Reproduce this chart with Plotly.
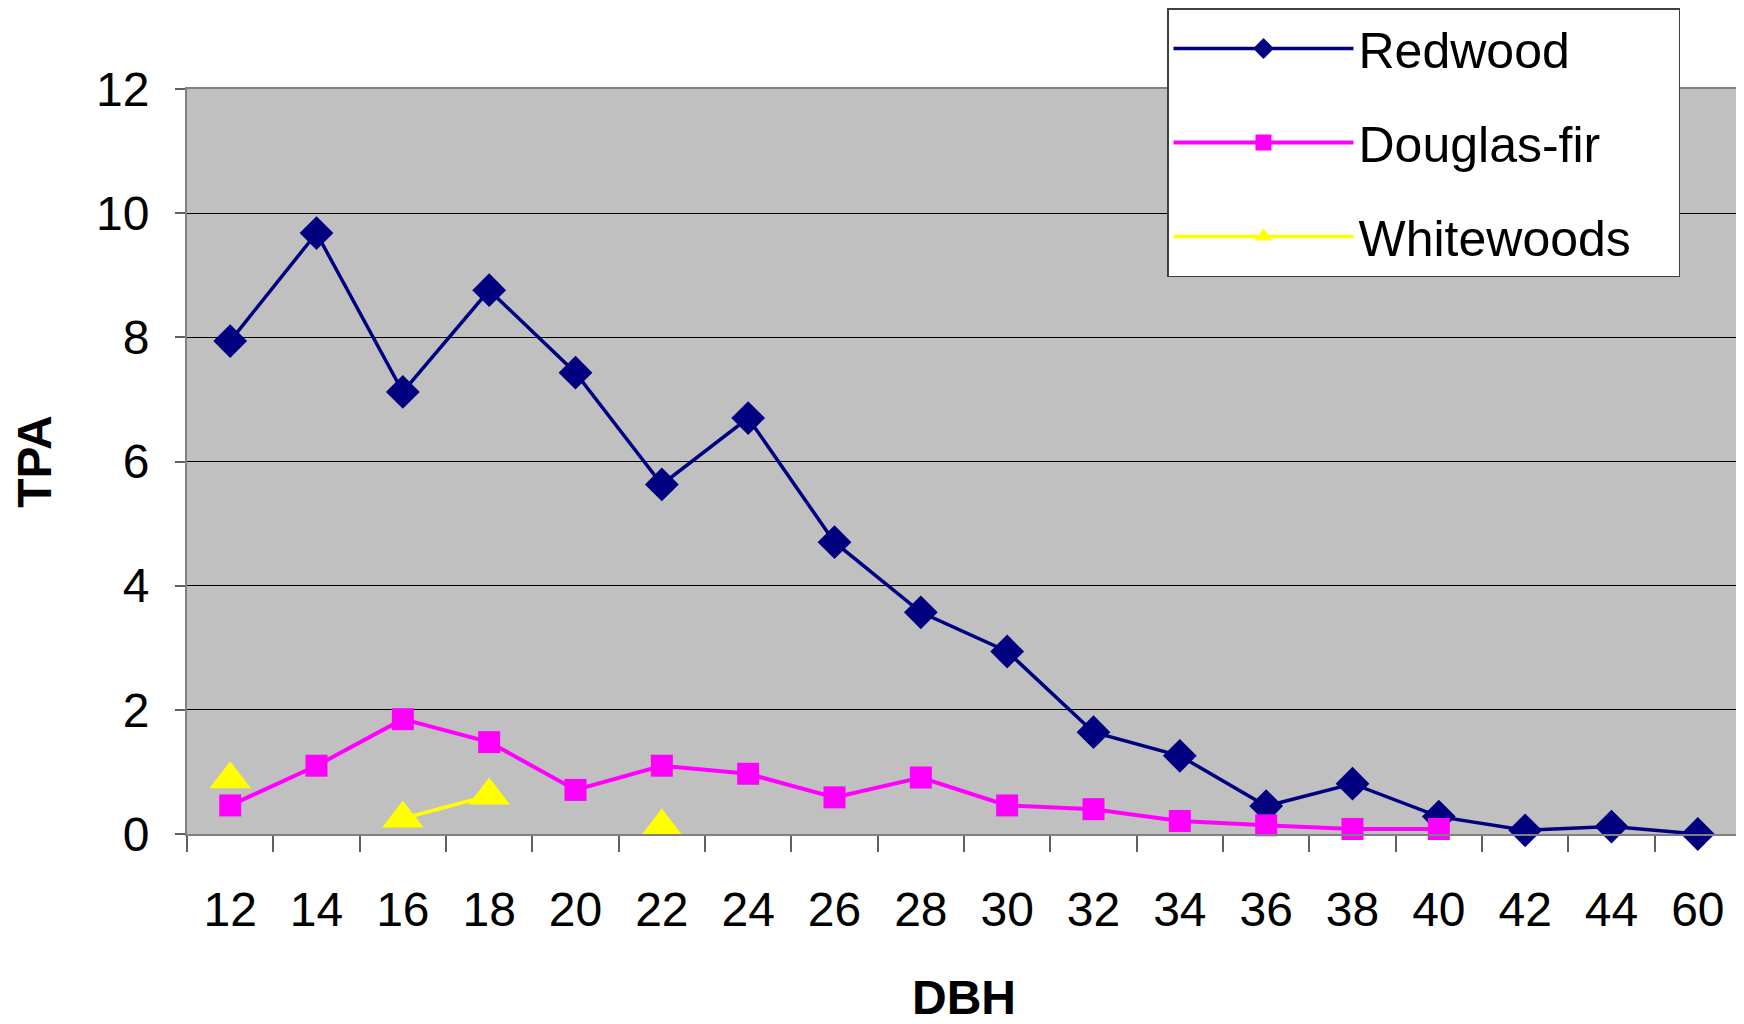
import plotly.graph_objects as go

dbh = ["12", "14", "16", "18", "20", "22", "24", "26", "28", "30", "32", "34", "36", "38", "40", "42", "44", "60"]
redwood = [7.94, 9.68, 7.12, 8.76, 7.43, 5.63, 6.70, 4.70, 3.57, 2.94, 1.64, 1.26, 0.45, 0.81, 0.28, 0.06, 0.12, 0.0]
douglas_fir = [0.46, 1.10, 1.85, 1.48, 0.71, 1.10, 0.97, 0.59, 0.91, 0.46, 0.40, 0.21, 0.14, 0.08, 0.08, None, None, None]
whitewoods = [0.88, None, 0.25, 0.62, None, 0.12, None, None, None, None, None, None, None, None, None, None, None, None]
y_ticks = [0, 2, 4, 6, 8, 10, 12]
series_names = ["Redwood", "Douglas-fir", "Whitewoods"]

FONT = "Liberation Sans, Arial, sans-serif"
PAD = "\u00a0" * 3

# page body has an 8px default margin; size the figure so it fits the 1744x1024 window
W, H = 1736, 1016

fig = go.Figure()
fig.add_trace(go.Scatter(
    x=dbh, y=redwood, name=series_names[0] + PAD, mode="lines+markers", legendgroup="a",
    line=dict(color="#000080", width=3.5),
    marker=dict(symbol="diamond", size=26, color="#000080"),
    cliponaxis=False,
))
fig.add_trace(go.Scatter(
    x=dbh, y=douglas_fir, name=series_names[1] + PAD, mode="lines+markers", legendgroup="b",
    line=dict(color="#FF00FF", width=4),
    marker=dict(symbol="square", size=22, color="#FF00FF"),
    cliponaxis=False,
))
fig.add_trace(go.Scatter(
    x=dbh, y=whitewoods, name=series_names[2] + PAD, mode="lines+markers", legendgroup="c",
    line=dict(color="#FFFF00", width=3.5),
    marker=dict(symbol="triangle-up", size=36, color="#FFFF00"),
    connectgaps=False, cliponaxis=False,
))

fig.update_layout(
    width=W, height=H,
    margin=dict(l=179, r=3, t=81, b=190, autoexpand=False),
    paper_bgcolor="white",
    plot_bgcolor="#C0C0C0",
    font=dict(family=FONT, color="black", size=48),
    showlegend=True,
    legend=dict(
        xref="container", yref="container",
        x=1159 / W, y=1 - 0 / H, xanchor="left", yanchor="top",
        bgcolor="white", bordercolor="#404040", borderwidth=1.5,
        font=dict(size=50, family=FONT),
        tracegroupgap=26, traceorder="grouped",
        itemwidth=180,
    ),
    xaxis=dict(
        type="category", categoryorder="array", categoryarray=dbh,
        tickmode="array", tickvals=dbh, ticktext=dbh,
        showgrid=False, zeroline=False, automargin=False,
        showline=True, linecolor="#808080", linewidth=2, mirror=True,
        ticks="outside", ticklen=16, tickcolor="#606060", tickwidth=1.5,
        tickson="boundaries", ticklabelstandoff=32,
        tickfont=dict(size=48, family=FONT),
        title=dict(text="<b>DBH</b>", font=dict(size=48, family=FONT), standoff=48),
        range=[-0.5, len(dbh) - 0.5],
    ),
    yaxis=dict(
        range=[0, 12], tickvals=y_ticks, ticktext=[str(v) for v in y_ticks],
        showgrid=True, gridcolor="black", gridwidth=1,
        zeroline=False, automargin=False,
        showline=True, linecolor="#808080", linewidth=2, mirror=True,
        ticks="outside", ticklen=10, tickcolor="#606060", tickwidth=1.5,
        ticklabelstandoff=16,
        tickfont=dict(size=48, family=FONT),
        title=dict(text="<b>TPA</b>", font=dict(size=48, family=FONT), standoff=40),
    ),
)

fig.write_html("out.html")
